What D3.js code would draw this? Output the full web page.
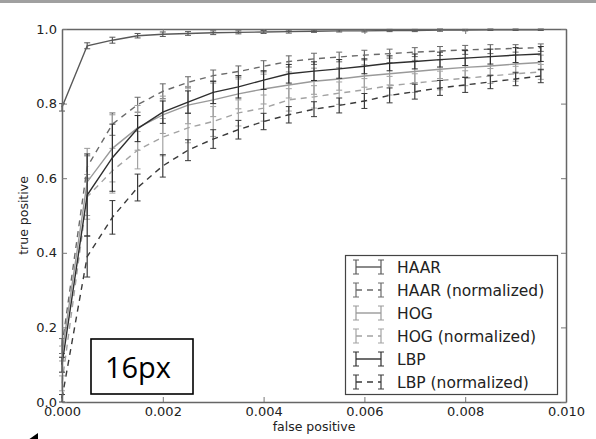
<!DOCTYPE html>
<html lang="en">
  <head>
    <meta charset="utf-8" />
    <title>ROC curves with error bars</title>
    <script src="https://cdn.jsdelivr.net/npm/d3@7"></script>
    <style>
      body { margin: 0; background: #fff; }
      svg { display: block; font-family: "DejaVu Sans", sans-serif; }
    </style>
  </head>
  <body>
    <script>
      // data
      var fpr = [0, 0.0005, 0.001, 0.0015, 0.002, 0.0025, 0.003, 0.0035, 0.004, 0.0045,
                 0.005, 0.0055, 0.006, 0.0065, 0.007, 0.0075, 0.008, 0.0085, 0.009, 0.0095];

      var haar       = [0.79, 0.955, 0.97, 0.982, 0.986, 0.988, 0.99, 0.991, 0.992, 0.993,
                        0.994, 0.995, 0.995, 0.996, 0.996, 0.997, 0.997, 0.998, 0.998, 0.998];
      var haarErr    = [0.01, 0.008, 0.008, 0.006, 0.006, 0.005, 0.005, 0.004, 0.004, 0.004,
                        0.003, 0.003, 0.003, 0.003, 0.003, 0.003, 0.002, 0.002, 0.002, 0.002];
      var haarNorm   = [0.15, 0.63, 0.745, 0.797, 0.833, 0.857, 0.875, 0.886, 0.9, 0.913,
                        0.92, 0.925, 0.93, 0.934, 0.938, 0.941, 0.944, 0.946, 0.948, 0.95];
      var haarNormErr= [0.02, 0.03, 0.03, 0.02, 0.02, 0.015, 0.015, 0.015, 0.015, 0.015,
                        0.015, 0.013, 0.013, 0.012, 0.012, 0.012, 0.012, 0.012, 0.01, 0.01];
      var hog        = [0.13, 0.59, 0.68, 0.735, 0.77, 0.796, 0.81, 0.826, 0.839, 0.85,
                        0.86, 0.866, 0.874, 0.88, 0.886, 0.892, 0.897, 0.901, 0.906, 0.91];
      var hogErr     = [0.02, 0.09, 0.09, 0.06, 0.05, 0.05, 0.045, 0.04, 0.04, 0.035,
                        0.035, 0.03, 0.03, 0.03, 0.03, 0.025, 0.025, 0.025, 0.025, 0.02];
      var hogNorm    = [0.05, 0.55, 0.62, 0.675, 0.71, 0.735, 0.752, 0.775, 0.788, 0.81,
                        0.818, 0.828, 0.837, 0.848, 0.855, 0.862, 0.868, 0.874, 0.88, 0.885];
      var hogNormErr = [0.02, 0.06, 0.06, 0.05, 0.05, 0.04, 0.04, 0.035, 0.035, 0.03,
                        0.03, 0.03, 0.03, 0.025, 0.025, 0.025, 0.02, 0.02, 0.02, 0.02];
      var lbp        = [0.1, 0.555, 0.655, 0.733, 0.777, 0.804, 0.83, 0.845, 0.863, 0.88,
                        0.887, 0.893, 0.9, 0.908, 0.913, 0.918, 0.922, 0.926, 0.93, 0.933];
      var lbpErr     = [0.02, 0.11, 0.09, 0.035, 0.03, 0.03, 0.03, 0.03, 0.025, 0.025,
                        0.025, 0.025, 0.02, 0.02, 0.02, 0.02, 0.02, 0.02, 0.02, 0.02];
      var lbpNorm    = [0.01, 0.39, 0.495, 0.575, 0.633, 0.675, 0.705, 0.73, 0.752, 0.77,
                        0.785, 0.795, 0.807, 0.822, 0.832, 0.842, 0.85, 0.858, 0.866, 0.874];
      var lbpNormErr = [0.01, 0.055, 0.045, 0.036, 0.03, 0.028, 0.025, 0.025, 0.022, 0.022,
                        0.02, 0.02, 0.02, 0.02, 0.02, 0.02, 0.02, 0.018, 0.018, 0.018];

      var names  = ["HAAR", "HAAR (normalized)", "HOG", "HOG (normalized)", "LBP", "LBP (normalized)"];
      var values = [haar, haarNorm, hog, hogNorm, lbp, lbpNorm];
      var errors = [haarErr, haarNormErr, hogErr, hogNormErr, lbpErr, lbpNormErr];
      var colors = ["#585858", "#6a6a6a", "#9a9a9a", "#a3a3a3", "#2e2e2e", "#3a3a3a"];
      var dashed = [false, true, false, true, false, true];

      var xTicks = [0, 0.002, 0.004, 0.006, 0.008, 0.01];
      var yTicks = [0, 0.2, 0.4, 0.6, 0.8, 1.0];

      var W = 596, H = 439;
      var m = { left: 62, right: 30, top: 29, bottom: 37 };

      var svg = d3.select("body").append("svg").attr("width", W).attr("height", H);

      // grey strip along the top edge
      svg.append("rect").attr("x", 0).attr("y", 0).attr("width", W).attr("height", 3).attr("fill", "#a0a0a0");

      var x = d3.scaleLinear().domain([0, 0.01]).range([m.left, W - m.right]);
      var y = d3.scaleLinear().domain([0, 1]).range([H - m.bottom, m.top]);

      var line = d3.line().x(function (d) { return x(d[0]); }).y(function (d) { return y(d[1]); });

      var plot = svg.append("g");
      values.forEach(function (vals, s) {
        var g = plot.append("g").attr("stroke", colors[s]).attr("fill", "none");
        var pts = fpr.map(function (f, i) { return [f, vals[i]]; });
        g.append("path").attr("d", line(pts)).attr("stroke-width", 1.4)
          .attr("stroke-dasharray", dashed[s] ? "6,5" : null);
        fpr.forEach(function (f, i) {
          var e = errors[s][i];
          var cx = x(f), y1 = y(vals[i] - e), y2 = y(vals[i] + e);
          g.append("line").attr("x1", cx).attr("x2", cx).attr("y1", y1).attr("y2", y2).attr("stroke-width", 1.2);
          g.append("line").attr("x1", cx - 3).attr("x2", cx + 3).attr("y1", y1).attr("y2", y1).attr("stroke-width", 1);
          g.append("line").attr("x1", cx - 3).attr("x2", cx + 3).attr("y1", y2).attr("y2", y2).attr("stroke-width", 1);
        });
      });

      // axes, matplotlib style: ticks inside, frame on all sides
      var tickFmt = d3.format(".3f");
      var ax = svg.append("g");
      ax.append("g").attr("transform", "translate(0," + y(0) + ")")
        .call(d3.axisBottom(x).tickValues(xTicks).tickFormat(tickFmt).tickSizeInner(-5).tickSizeOuter(0).tickPadding(5));
      ax.append("g").attr("transform", "translate(0," + y(1) + ")")
        .call(d3.axisTop(x).tickValues(xTicks).tickFormat("").tickSizeInner(-5).tickSizeOuter(0));
      ax.append("g").attr("transform", "translate(" + x(0) + ",0)")
        .call(d3.axisLeft(y).tickValues(yTicks).tickFormat(d3.format(".1f")).tickSizeInner(-5).tickSizeOuter(0).tickPadding(5));
      ax.append("g").attr("transform", "translate(" + x(0.01) + ",0)")
        .call(d3.axisRight(y).tickValues(yTicks).tickFormat("").tickSizeInner(-5).tickSizeOuter(0));
      ax.selectAll(".domain").attr("stroke", "#666").attr("stroke-width", 1.5);
      ax.selectAll(".tick line").attr("stroke", "#777");
      ax.selectAll("text").attr("font-size", 13).attr("fill", "#222").attr("font-family", "DejaVu Sans");

      svg.append("text").attr("x", (x(0) + x(0.01)) / 2).attr("y", 431).attr("text-anchor", "middle")
        .attr("font-size", 12.5).attr("fill", "#222").text("false positive");
      svg.append("text").attr("transform", "translate(28," + y(0.5) + ") rotate(-90)").attr("text-anchor", "middle")
        .attr("font-size", 12.5).attr("fill", "#222").text("true positive");

      // legend
      var lg = svg.append("g");
      lg.append("rect").attr("x", 345.5).attr("y", 255.5).attr("width", 212).attr("height", 139)
        .attr("fill", "#fff").attr("stroke", "#444").attr("stroke-width", 1.2);
      names.forEach(function (n, s) {
        var ly = 267 + s * 23;
        var g = lg.append("g").attr("stroke", colors[s]).attr("fill", "none");
        g.append("line").attr("x1", 356).attr("x2", 381).attr("y1", ly).attr("y2", ly).attr("stroke-width", 1.4)
          .attr("stroke-dasharray", dashed[s] ? "6,5" : null);
        [356, 381].forEach(function (bx) {
          g.append("line").attr("x1", bx).attr("x2", bx).attr("y1", ly - 7).attr("y2", ly + 7).attr("stroke-width", 1.2);
          g.append("line").attr("x1", bx - 3).attr("x2", bx + 3).attr("y1", ly - 7).attr("y2", ly - 7);
          g.append("line").attr("x1", bx - 3).attr("x2", bx + 3).attr("y1", ly + 7).attr("y2", ly + 7);
        });
        lg.append("text").attr("x", 397).attr("y", ly + 5.5).attr("font-size", 15.5).attr("fill", "#222").text(n);
      });

      // size annotation box
      svg.append("rect").attr("x", 91).attr("y", 339).attr("width", 102).attr("height", 55)
        .attr("fill", "#fff").attr("stroke", "#000").attr("stroke-width", 1.6);
      svg.append("text").attr("x", 138).attr("y", 378).attr("text-anchor", "middle")
        .attr("font-family", "Open Sans").attr("font-size", 29).attr("fill", "#000").text("16px");

      // small marker at the bottom left corner
      svg.append("path").attr("d", "M38,433 L28,440 L38,440 Z").attr("fill", "#000");
    </script>
  </body>
</html>
